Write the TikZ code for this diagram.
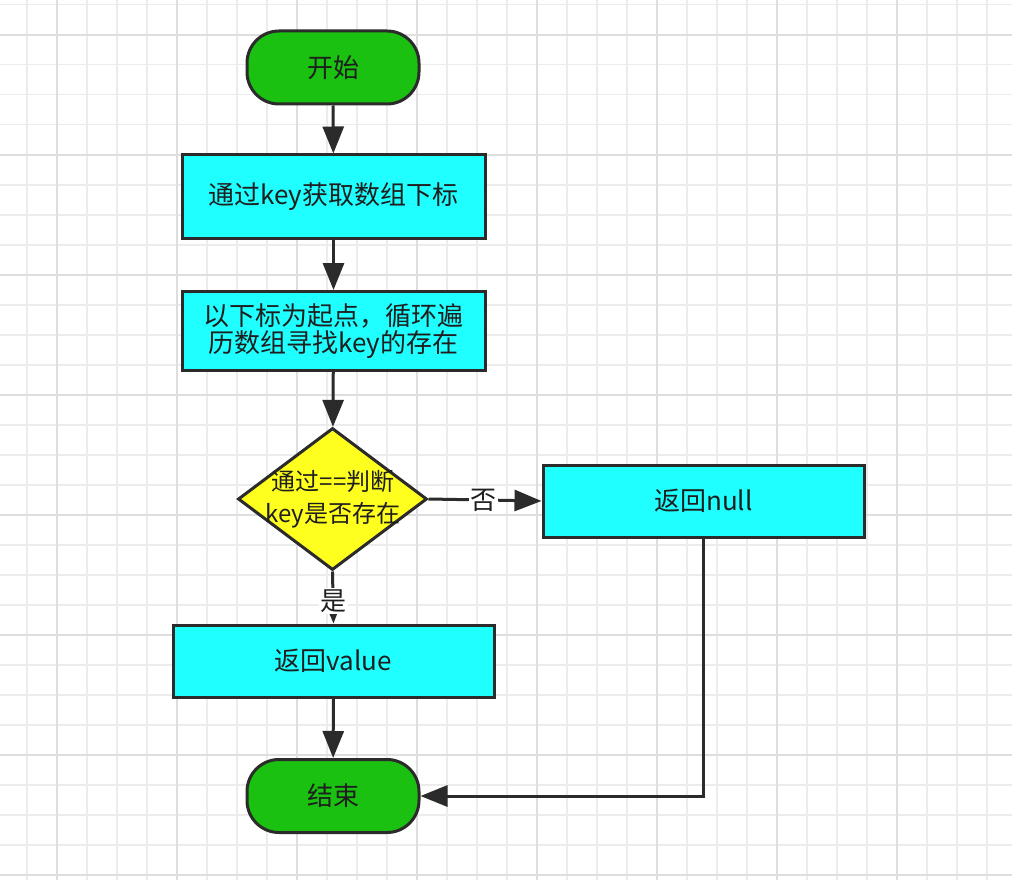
\documentclass[tikz,border=0pt]{standalone}
\usepackage{fontspec}
\setmainfont{Noto Sans CJK SC}
\usetikzlibrary{shapes.geometric,arrows.meta}
\definecolor{termgreen}{HTML}{1AC110}
\definecolor{boxcyan}{HTML}{1FFFFF}
\definecolor{decyellow}{HTML}{FFFF1F}
\definecolor{edgecol}{HTML}{2B2B2B}
\definecolor{txtcol}{HTML}{1E1E1E}
\definecolor{gridminor}{HTML}{ECECEC}
\definecolor{gridmajor}{HTML}{DEDEDE}
\tikzset{
  base/.style={draw=edgecol, line width=3pt, inner sep=0pt, text=txtcol,
    font=\fontsize{26}{27.3}\selectfont, align=center},
  term/.style={base, fill=termgreen, rounded corners=32pt,
    minimum width=172pt, minimum height=73pt},
  procbox/.style={base, fill=boxcyan, rectangle},
  decision/.style={base, fill=decyellow, diamond,
    minimum width=189pt, minimum height=142pt},
  conn/.style={draw=edgecol, line width=3pt, -{Triangle[length=27pt,width=21pt]}},
  lbl/.style={fill=white, inner sep=1.5pt, text=txtcol, font=\fontsize{26}{28}\selectfont},
  gminor/.style={draw=gridminor, line width=1.6pt},
  gmajor/.style={draw=gridmajor, line width=1.8pt}
}
\begin{document}
\begin{tikzpicture}[x=1pt,y=-1pt]
\useasboundingbox (0,0) rectangle (1012,880);
\fill[white] (0,0) rectangle (1012,880);
% grid
\foreach \i in {0,...,32} {\draw[gminor] ({26.7+30*\i},0) -- ({26.7+30*\i},880);}
\foreach \j in {0,...,29} {\draw[gminor] (0,{4.7+30*\j}) -- (1012,{4.7+30*\j});}
\foreach \i in {0,...,7} {\draw[gmajor] ({56.7+120*\i},0) -- ({56.7+120*\i},880);}
\foreach \j in {0,...,7} {\draw[gmajor] (0,{34.7+120*\j}) -- (1012,{34.7+120*\j});}
% nodes
\node[term] (start) at (333,67.5) {开始};
\node[procbox, minimum width=303pt, minimum height=83pt] (getidx) at (333.5,196.5) {通过key获取数组下标};
\node[procbox, minimum width=303pt, minimum height=79pt] (loop) at (333.5,331) {以下标为起点，循环遍\\历数组寻找key的存在};
\node[decision] (dec) at (332.5,499) {};
\node[text=txtcol, align=center, inner sep=0pt, font=\fontsize{24}{32}\selectfont] (dectext) at (333,499) {通过==判断\\key是否存在};
\node[procbox, minimum width=321pt, minimum height=72pt] (retnull) at (703.5,501) {返回null};
\node[procbox, minimum width=321pt, minimum height=72pt] (retval) at (333.5,661) {返回value};
\node[term] (finish) at (333,796) {结束};
% connectors
\draw[conn] (start) -- (getidx);
\draw[conn] (getidx) -- (loop);
\draw[conn] (loop) -- (dec);
\draw[conn] (dec.east) -- (retnull.west) node[lbl, pos=0.49] (nolbl) {否};
\draw[conn] (dec.south) -- (retval.north) node[lbl, pos=0.57] (yeslbl) {是};
\draw[conn] (retval) -- (finish);
\draw[conn] (retnull.south) |- (finish.east);
\end{tikzpicture}
\end{document}
